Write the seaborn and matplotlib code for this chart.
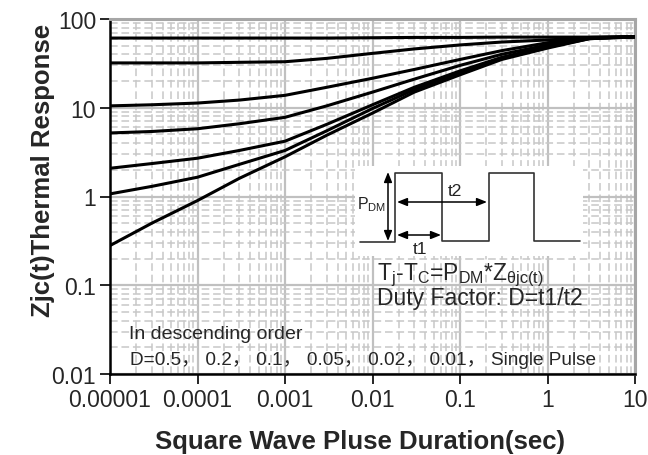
import numpy as np
import pandas as pd
import matplotlib
matplotlib.use("Agg")
import matplotlib.pyplot as plt
import matplotlib.ticker as mticker
from matplotlib.patches import Rectangle
import seaborn as sns

# ---------------- data ----------------
pulse_time = [1e-5, 3e-5, 1e-4, 3e-4, 1e-3, 3e-3, 1e-2, 3e-2, 1e-1, 3e-1, 1, 3, 10]
z_d050 = [61, 61, 61, 61, 61, 61, 61.5, 62, 62, 62.5, 62.5, 62.5, 63]
z_d020 = [32, 32, 32, 32.5, 33, 36, 41, 46, 51, 55, 58, 62, 63]
z_d010 = [10.5, 10.8, 11.3, 12.2, 13.8, 17, 21.5, 27, 35, 44, 54, 61.5, 63]
z_d005 = [5.2, 5.4, 5.8, 6.6, 7.8, 10.5, 15, 21, 30, 40, 51, 61, 63]
z_d002 = [2.08, 2.35, 2.7, 3.3, 4.2, 6.5, 10.8, 17, 26, 37, 49, 60.5, 63]
z_d001 = [1.07, 1.3, 1.65, 2.3, 3.3, 5.5, 9.8, 16, 25, 36, 48, 60, 63]
z_single = [0.28, 0.5, 0.9, 1.6, 2.8, 4.9, 8.7, 15, 23.5, 35, 47, 60, 63]
series_names = ["D=0.5", "D=0.2", "D=0.1", "D=0.05", "D=0.02", "D=0.01", "Single Pulse"]
series_values = [z_d050, z_d020, z_d010, z_d005, z_d002, z_d001, z_single]

x_ticks = [1e-5, 1e-4, 1e-3, 1e-2, 1e-1, 1, 10]
x_tick_labels = ["0.00001", "0.0001", "0.001", "0.01", "0.1", "1", "10"]
y_ticks = [0.01, 0.1, 1, 10, 100]
y_tick_labels = ["0.01", "0.1", "1", "10", "100"]

df = pd.concat(
    [pd.DataFrame({"t": pulse_time, "z": v, "series": n}) for n, v in zip(series_names, series_values)],
    ignore_index=True,
)

# ---------------- style ----------------
sns.set_theme(style="white")
plt.rcParams["font.family"] = ["Liberation Sans", "Noto Sans CJK SC", "DejaVu Sans"]
plt.rcParams["mathtext.default"] = "regular"

fig = plt.figure(figsize=(6.48, 4.56), dpi=100)
L, R, T, B = 110, 635, 20, 375
ax = fig.add_axes([L / 648, 1 - B / 456, (R - L) / 648, (B - T) / 456])

sns.lineplot(data=df, x="t", y="z", hue="series", palette=["black"] * 7,
             linewidth=2.2, legend=False, ax=ax, zorder=5, estimator=None)

ax.set_xscale("log")
ax.set_yscale("log")
ax.set_xlim(1e-5, 10)
ax.set_ylim(0.01, 100)

ax.xaxis.set_major_locator(mticker.FixedLocator(x_ticks))
ax.xaxis.set_major_formatter(mticker.FixedFormatter(x_tick_labels))
ax.yaxis.set_major_locator(mticker.FixedLocator(y_ticks))
ax.yaxis.set_major_formatter(mticker.FixedFormatter(y_tick_labels))
ax.xaxis.set_minor_locator(mticker.LogLocator(base=10, subs=np.arange(2, 10), numticks=20))
ax.yaxis.set_minor_locator(mticker.LogLocator(base=10, subs=np.arange(2, 10), numticks=20))
ax.xaxis.set_minor_formatter(mticker.NullFormatter())
ax.yaxis.set_minor_formatter(mticker.NullFormatter())

ax.grid(True, which="major", color="#c0c0c0", linewidth=1.6, linestyle="-", zorder=0)
ax.grid(True, which="minor", color="#c8c8c8", linewidth=1.1, linestyle=(0, (5, 2.5)), zorder=0)
ax.set_axisbelow(True)

ax.tick_params(which="major", direction="out", length=7, width=1.2, color="black",
               labelsize=16.5, pad=3, left=True, bottom=True, top=False, right=False)
ax.tick_params(which="minor", length=0)

for s in ["left", "bottom"]:
    ax.spines[s].set_color("black")
    ax.spines[s].set_linewidth(1.8)
for s in ["top", "right"]:
    ax.spines[s].set_color("#a6a6a6")
    ax.spines[s].set_linewidth(2.2)

ax.set_xlabel("Square Wave Pluse Duration(sec)", fontsize=18.5, fontweight="bold")
ax.set_ylabel("Zjc(t)Thermal Response", fontsize=18.5, fontweight="bold")
ax.xaxis.set_label_coords(0.476, -0.155)
ax.yaxis.set_label_coords(-0.105, 0.575)

# ---------------- inset diagram (axes-fraction coords) ----------------
def fx(px):
    return (px - L) / (R - L)

def fy(py):
    return (B - py) / (B - T)

ax.add_patch(Rectangle((fx(355), fy(257)), fx(583) - fx(355), fy(167) - fy(257),
                       transform=ax.transAxes, facecolor="white", edgecolor="none", zorder=2))

wave_x = [360, 395, 395, 442, 442, 489, 489, 534, 534, 580]
wave_y = [243, 243, 174, 174, 242, 242, 174, 174, 242, 242]
ax.plot([fx(v) for v in wave_x], [fy(v) for v in wave_y], transform=ax.transAxes,
        color="#333333", linewidth=1.2, zorder=3, clip_on=False)

arrow_kw = dict(arrowstyle="<|-|>,head_length=0.5,head_width=0.2", color="black", lw=1.1,
                shrinkA=0, shrinkB=0)
ax.annotate("", xy=(fx(388), fy(173)), xytext=(fx(388), fy(242)), xycoords="axes fraction",
            arrowprops=arrow_kw, zorder=4)
ax.annotate("", xy=(fx(397), fy(203)), xytext=(fx(487), fy(203)), xycoords="axes fraction",
            arrowprops=arrow_kw, zorder=4)
ax.annotate("", xy=(fx(397), fy(236)), xytext=(fx(441), fy(236)), xycoords="axes fraction",
            arrowprops=arrow_kw, zorder=4)

ax.text(fx(357), fy(205), r"P$_{\mathregular{DM}}$", transform=ax.transAxes, fontsize=11.5,
        ha="left", va="center", color="#222222", zorder=4)
ax.text(fx(455), fy(192), "t2", transform=ax.transAxes, fontsize=12.5,
        ha="center", va="center", color="#222222", zorder=4)
ax.text(fx(420), fy(250), "t1", transform=ax.transAxes, fontsize=12.5,
        ha="center", va="center", color="#222222", zorder=4)

ax.text(fx(377), fy(280), r"T$_{\mathregular{j}}$-T$_{\mathregular{C}}$=P$_{\mathregular{DM}}$*Z$_{\mathregular{\theta jc(t)}}$",
        transform=ax.transAxes, fontsize=16.5, ha="left", va="baseline", zorder=4)
ax.text(fx(377), fy(305), "Duty Factor: D=t1/t2",
        transform=ax.transAxes, fontsize=16.5, ha="left", va="baseline", zorder=4)

ax.text(fx(129), fy(339), "In descending order", transform=ax.transAxes,
        fontsize=14, ha="left", va="baseline", zorder=4)
ax.text(fx(130), fy(365), "D=0.5\uff0c 0.2\uff0c 0.1\uff0c 0.05\uff0c 0.02\uff0c 0.01\uff0c Single Pulse",
        transform=ax.transAxes, fontsize=13.7, ha="left", va="baseline", zorder=4)

fig.savefig("out.png", dpi=100, facecolor="white")
